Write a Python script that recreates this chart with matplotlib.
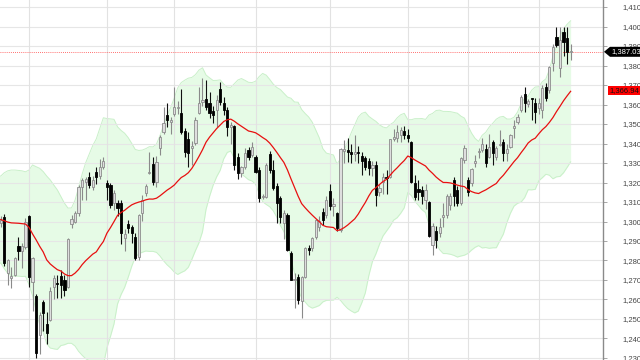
import numpy as np
import pandas as pd
import matplotlib
matplotlib.use("Agg")
import matplotlib.pyplot as plt
from matplotlib.patches import Polygon, Rectangle

plt.rcParams['font.family'] = ['Liberation Sans', 'DejaVu Sans']

# ---- data ----
opens = [1299, 1302.5, 1273.4, 1271, 1272.6, 1287.4, 1285, 1287.1, 1302.8, 1269.1,
         1261.8, 1241.8, 1258.9, 1247.4, 1249.5, 1266.6, 1268.7, 1272.2, 1270, 1266.3,
         1298.6, 1299.9, 1304.5, 1317.5, 1320.4, 1322.7, 1317.5, 1325.5, 1323.5, 1327.8,
         1319.6, 1318.7, 1309.3, 1309.7, 1309.3, 1291.4, 1298.6, 1297.3, 1292.2, 1281.9,
         1304.2, 1314.5, 1324.7, 1329.5, 1320.4, 1337.5, 1346, 1354.6, 1351.2, 1355.1,
         1358, 1355.5, 1346.5, 1342.2, 1337.5, 1340.5, 1355.5, 1361.4, 1362.7, 1361,
         1356.5, 1357.2, 1367.8, 1361, 1357.2, 1348.6, 1349.1, 1333.2, 1324.7, 1328.1,
         1336.7, 1334.1, 1333.2, 1326.4, 1312.4, 1312.7, 1334.6, 1326.4, 1318.2, 1311.9,
         1299.1, 1303.3, 1283.7, 1270, 1271.7, 1259, 1271.7, 1286.2, 1286.2, 1292.2,
         1297, 1305, 1303.3, 1315.8, 1308, 1304.2, 1295.6, 1336.3, 1336.7, 1335.4,
         1334.7, 1335.8, 1333.6, 1332.4, 1331, 1327.3, 1329, 1315.3, 1320.4, 1323,
         1323, 1342.2, 1342.7, 1344.4, 1346.4, 1344.4, 1340.9, 1319.6, 1316.5, 1316.2,
         1311, 1310.2, 1288, 1295.3, 1293.9, 1302.5, 1303.3, 1308.5, 1321.3, 1316,
         1309.3, 1331.5, 1321.3, 1319.9, 1330.2, 1335.5, 1336.7, 1337, 1333.2, 1340.9,
         1333.2, 1339.2, 1341, 1335.3, 1338.4, 1347.8, 1351.2, 1357.2, 1365.4, 1360.3,
         1363.2, 1360.6, 1358, 1357.2, 1369.1, 1367.4, 1381.1, 1394.8, 1378.6, 1397.3,
         1394, 1387.0]
highs = [1303, 1304, 1281, 1276.8, 1282, 1292.2, 1288.8, 1301.7, 1303.5, 1282,
         1263, 1253.5, 1259.7, 1253.5, 1266.6, 1272.5, 1272.5, 1275, 1272.5, 1291.5,
         1303.3, 1305.5, 1318.5, 1322.5, 1323, 1325.5, 1323.5, 1328, 1332, 1333.2,
         1321.3, 1320, 1316, 1311, 1311, 1296.3, 1300.6, 1298, 1294, 1304,
         1313.5, 1319, 1335.8, 1333.3, 1333.8, 1344.4, 1358.9, 1360.6, 1353.6, 1369.1,
         1362, 1368, 1347.8, 1346, 1341.5, 1353.5, 1369.1, 1373.4, 1372.6, 1366.2,
         1359, 1364.9, 1371.7, 1363.6, 1358.9, 1351.2, 1349.5, 1334.9, 1328.6, 1337.8,
         1338, 1340.9, 1334, 1328, 1314, 1330, 1336, 1331.3, 1320, 1313,
         1306, 1304.2, 1285, 1273.4, 1273, 1272, 1287, 1288, 1292, 1301.5,
         1303, 1307, 1313, 1319, 1312, 1305, 1337.5, 1341.8, 1342.7, 1340,
         1344.4, 1338.5, 1335.8, 1333.5, 1332.5, 1331, 1331, 1319, 1325, 1326.4,
         1342.5, 1347.2, 1349.4, 1348.5, 1349, 1347.5, 1341.5, 1323.8, 1321.3, 1318,
         1319, 1310.5, 1299, 1297.5, 1301.7, 1309.3, 1314, 1314.5, 1323, 1318,
         1333, 1339, 1323, 1327.5, 1334, 1337.5, 1343, 1340, 1345, 1342,
         1338.5, 1347.1, 1342.5, 1340, 1345, 1352, 1355, 1365, 1369, 1363,
         1363.5, 1363.5, 1363.5, 1370, 1371, 1380, 1391, 1399.9, 1399.9, 1400,
         1400, 1391]
lows = [1297, 1277, 1267.4, 1265.7, 1272, 1280.3, 1276, 1286, 1266.6, 1254,
        1229.9, 1232, 1244, 1237.4, 1249, 1260, 1261, 1261, 1262, 1266,
        1296.9, 1299, 1303, 1311, 1311, 1317, 1316, 1319, 1322, 1327,
        1311, 1307, 1306, 1303, 1288.7, 1285, 1294, 1289, 1280, 1280,
        1300.5, 1313, 1324.5, 1318.6, 1317.8, 1334, 1345, 1348.7, 1344.7, 1354,
        1355, 1345, 1333.2, 1328.1, 1329, 1339, 1355, 1359, 1357.2, 1352.9,
        1350.4, 1348.6, 1360, 1354.6, 1343.8, 1340, 1326.4, 1321.6, 1323, 1327,
        1331.5, 1333, 1324.7, 1310, 1311.5, 1312, 1325, 1316, 1299, 1299.4,
        1291, 1285, 1270, 1255.5, 1257.6, 1250.5, 1271, 1283, 1285, 1291,
        1295, 1298, 1302, 1306, 1303, 1295, 1294.5, 1329.8, 1330.7, 1330,
        1331, 1330, 1324, 1326.4, 1324, 1323.5, 1307.7, 1313, 1314, 1314,
        1322.5, 1341.5, 1341, 1341, 1342.5, 1341, 1319.8, 1311, 1311, 1309,
        1306.5, 1292, 1283, 1286.4, 1292, 1297.3, 1302, 1306, 1308, 1308,
        1308.5, 1330, 1313, 1318, 1328, 1332.5, 1335.5, 1328, 1332.5, 1329,
        1331.5, 1338.5, 1331, 1331, 1337.5, 1343, 1350, 1356, 1356.4, 1358.5,
        1352, 1350.5, 1355, 1353, 1362, 1366, 1377, 1389.5, 1374, 1385,
        1381, 1383]
closes = [1301, 1278.6, 1280.3, 1272, 1281.1, 1285, 1287.4, 1300, 1271.7, 1281.1,
          1232.4, 1252, 1252.9, 1242.6, 1264.4, 1270.8, 1268, 1267.4, 1264.9, 1290.9,
          1301.3, 1304.5, 1317.5, 1321.3, 1321.6, 1318.7, 1321.3, 1323, 1328, 1331.2,
          1317.9, 1308.5, 1314.8, 1306.8, 1293.9, 1293.6, 1296.9, 1293.9, 1281.1, 1303.3,
          1311, 1318.2, 1325.5, 1320.4, 1330.7, 1343.5, 1350.4, 1352, 1352, 1358.6,
          1358.5, 1346, 1335.8, 1335, 1338.7, 1352, 1360.6, 1362.3, 1358.9, 1355.5,
          1354.5, 1362.3, 1361.4, 1357.2, 1348.6, 1349.5, 1329, 1324.7, 1327.8, 1335.3,
          1333.2, 1338, 1325.5, 1311.9, 1313, 1329, 1326.4, 1317, 1309.3, 1302.5,
          1304.2, 1285.4, 1270, 1270.3, 1259.7, 1271.7, 1286.2, 1285.4, 1291.4, 1300.8,
          1300.5, 1300.8, 1311, 1308, 1309, 1296.5, 1337, 1337, 1335.8, 1334.7,
          1335.4, 1335, 1331.2, 1328.1, 1327.3, 1329, 1313.6, 1317.3, 1322.7, 1322.1,
          1342.2, 1343.2, 1346, 1346.9, 1344.4, 1342.7, 1320.4, 1312.7, 1315.3, 1313.1,
          1316.2, 1292.8, 1297.7, 1290.5, 1297.3, 1303.3, 1313.1, 1313.1, 1313, 1309.3,
          1332.4, 1337.5, 1315.3, 1326.8, 1331.2, 1336, 1340, 1330, 1338.4, 1335,
          1337.5, 1340, 1335, 1337, 1344.4, 1349, 1353.8, 1364, 1360.6, 1361.8,
          1362.7, 1356.3, 1360.6, 1368.3, 1363.2, 1379.4, 1389.6, 1390.5, 1393.1, 1392.2,
          1387.1, 1387.03]

ma_head = [1301.0, 1300.4, 1299.7, 1299.3, 1299.2, 1299.1, 1298.9, 1298.7, 1297.0, 1293.6,
           1290.6, 1287.3, 1284.4, 1280.3, 1278.2, 1276.7, 1275.3, 1274.6, 1273.1]
upper_head = [1323.3, 1325.0, 1326.0, 1326.4, 1326.4, 1326.2, 1326.0, 1325.5, 1326.4, 1329.0,
              1328.1, 1327.3, 1325.6, 1323.3, 1321.3, 1318.7, 1316.2, 1312.8, 1309.4]
lower_head = [1278.7, 1275.8, 1273.4, 1272.2, 1272.0, 1272.0, 1271.8, 1271.9, 1267.6, 1262.0,
              1254.0, 1247.3, 1243.2, 1237.3, 1235.1, 1234.7, 1234.4, 1236.4, 1236.8]

month_starts = [8, 30, 49, 72, 93, 115, 132, 152]
y_ticks = list(range(1230, 1411, 10))
last_price = 1387.03
ma_last = 1366.94
window = 20

# ---- indicators ----
n = len(closes)
x = np.arange(n)
cs = pd.Series(closes, dtype=float)
ma = cs.rolling(window).mean().to_numpy()
sd = cs.rolling(window).std(ddof=0).to_numpy()
upper = ma + 2 * sd
lower = ma - 2 * sd
h = len(ma_head)
ma[:h] = ma_head
upper[:h] = upper_head
lower[:h] = lower_head

# ---- figure ----
W, H = 640, 360
fig = plt.figure(figsize=(W / 100, H / 100), dpi=100)
spine_px = 603
ax = fig.add_axes([0, 0, spine_px / W, 1])
ax.set_xlim(-0.2, (spine_px - 0.7) / 3.54)
ax.set_ylim(1228.97, 1413.6)

# band
ax.fill_between(np.r_[-0.4, x], np.r_[upper[0], upper], np.r_[lower[0], lower],
                color='#e6fbe6', lw=0, zorder=1)
ax.plot(np.r_[-0.4, x], np.r_[upper[0], upper], color='#c9f0c9', lw=0.7, zorder=1.2)
ax.plot(np.r_[-0.4, x], np.r_[lower[0], lower], color='#c9f0c9', lw=0.7, zorder=1.2)

# grid
for v in y_ticks:
    ax.axhline(v, color='#e6e6e6', lw=0.8, zorder=1.5)
for m in month_starts:
    ax.axvline(m, color='#e2e2e2', lw=0.8, zorder=1.5)

# MA
ax.plot(x, ma, color='#e81010', lw=0.9, zorder=5)

# candles
o = np.array(opens); c = np.array(closes); hi = np.array(highs); lo = np.array(lows)
up = c >= o
wick_col = np.where(up, '#8a8a8a', '#111111')
ax.vlines(x, lo, hi, colors=wick_col, lw=0.8, zorder=3)
bottom = np.minimum(o, c)
height = np.maximum(np.abs(c - o), 0.5)
ax.bar(x[up], height[up], bottom=bottom[up], width=0.62, color='#dedede',
       edgecolor='#8c8c8c', linewidth=0.6, zorder=4)
ax.bar(x[~up], height[~up], bottom=bottom[~up], width=0.62, color='#000000',
       edgecolor='#000000', linewidth=0.6, zorder=4)

# last price dotted line
ax.axhline(last_price, color='#ff4040', lw=0.6, ls=(0, (1, 1.5)), zorder=2)

# axes styling
for s in ['top', 'left', 'bottom']:
    ax.spines[s].set_visible(False)
ax.spines['right'].set_color('#8a8a8a')
ax.spines['right'].set_linewidth(1.0)
ax.yaxis.tick_right()
ax.set_yticks(y_ticks)
ax.set_yticklabels([f"{v:,}" for v in y_ticks])
ax.tick_params(axis='y', direction='out', length=3, width=0.6, color='#999999',
               labelsize=5.5, labelcolor='#444444', pad=11)
ax.set_xticks([])

# price labels
def ypix(v):
    lo_, hi_ = ax.get_ylim()
    return H * (hi_ - v) / (hi_ - lo_)

yp = ypix(last_price)
poly = Polygon([[604 / W, 1 - yp / H], [610 / W, 1 - (yp - 5) / H], [W / W, 1 - (yp - 5) / H],
                [W / W, 1 - (yp + 5) / H], [610 / W, 1 - (yp + 5) / H]],
               closed=True, transform=fig.transFigure, facecolor='#000000', edgecolor='none')
fig.patches.append(poly)
fig.text(611 / W, 1 - yp / H, f"{last_price:,.2f}", color='white', fontsize=5.5,
         va='center', ha='left')

ym = ypix(ma_last)
rect = Rectangle((608 / W, 1 - (ym + 4.5) / H), 32 / W, 9 / H, transform=fig.transFigure,
                 facecolor='#ff0000', edgecolor='none')
fig.patches.append(rect)
fig.text(609.5 / W, 1 - ym / H, f"{ma_last:,.2f}", color='#111111', fontsize=5.5,
         va='center', ha='left')

fig.savefig('out.png', dpi=100)
